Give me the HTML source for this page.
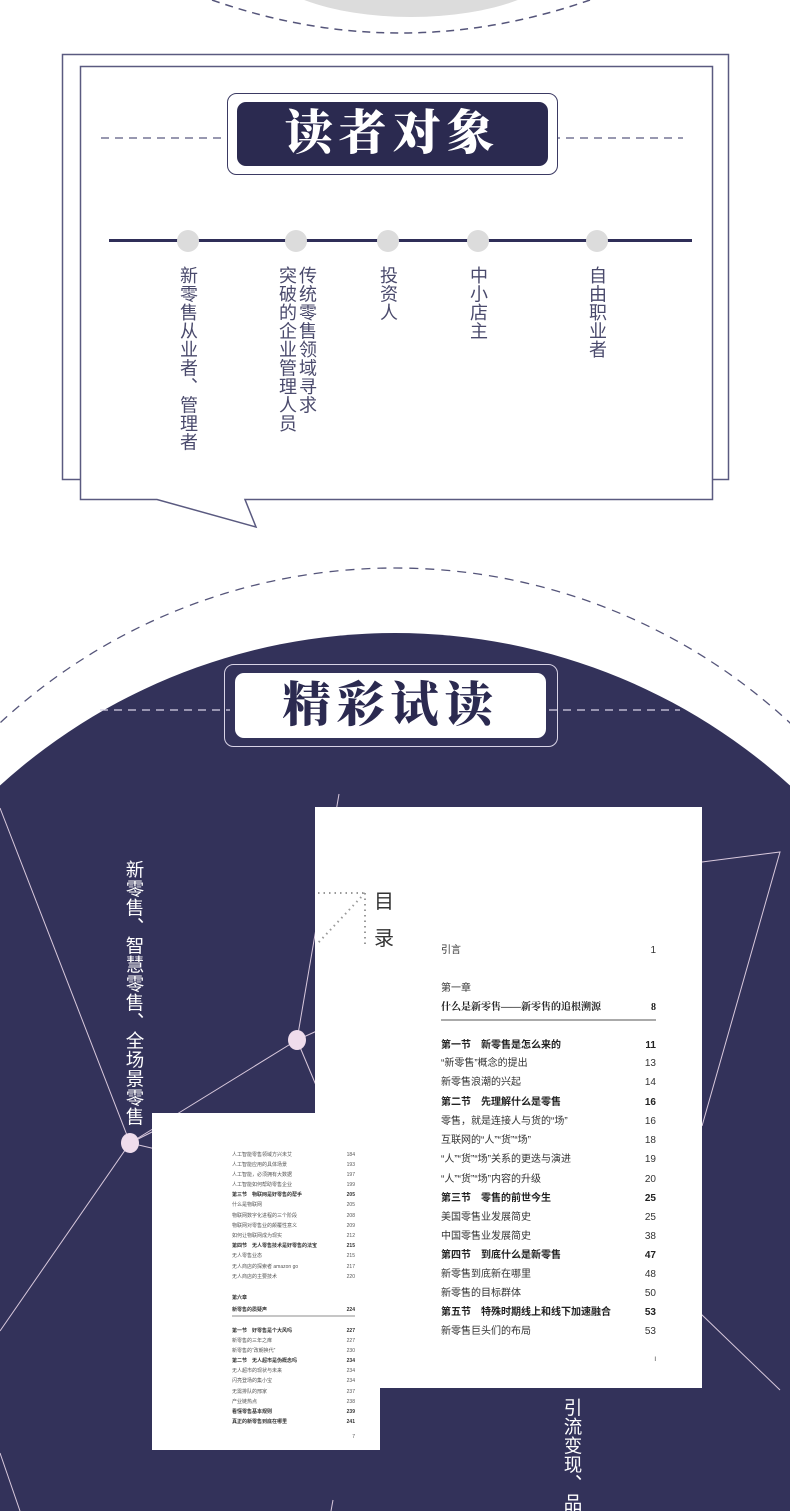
<!DOCTYPE html>
<html style="overflow:hidden;width:790px;height:1511px"><head><meta charset="utf-8">
<style>
*{margin:0;padding:0;box-sizing:border-box}
body{width:790px;height:1511px;position:relative;overflow:hidden;background:#fff;font-family:"Liberation Sans","Noto Sans CJK SC",sans-serif}
.a{position:absolute}
.v{position:absolute;writing-mode:vertical-rl;white-space:nowrap;height:200px;font-size:18px;line-height:18px;color:#4a4a6c;letter-spacing:0.5px}
.t{position:absolute;left:441px;width:215px;font-size:10px;line-height:12px;color:#333;display:flex;justify-content:space-between}
.t.b{font-weight:bold;color:#222}
.s{position:absolute;left:232px;width:123px;font-size:5px;line-height:6px;color:#555;display:flex;justify-content:space-between}
.s.b{font-weight:bold;color:#333}
.title{position:absolute;font-family:"Liberation Serif","Noto Serif CJK SC",serif;font-weight:900;font-size:48px;line-height:60px;text-align:center;letter-spacing:6px}
</style></head><body>
<svg class="a" style="left:0;top:0" width="790" height="1511" viewBox="0 0 790 1511">
  <ellipse cx="411" cy="-40" rx="150" ry="57" fill="#dcdcdc"/>
  <path d="M212 0 Q400 66 590 0" fill="none" stroke="#55557a" stroke-width="1.5" stroke-dasharray="8 6"/>
  <rect x="62.5" y="54.5" width="666" height="425" fill="none" stroke="#5a5a80" stroke-width="1.5"/>
  <path d="M80.5 66.5 H712.5 V499.5 H245 L256 527 L157 499.5 H80.5 Z" fill="#fff" stroke="#5a5a80" stroke-width="1.5"/>
  <line x1="101" y1="138" x2="228" y2="138" stroke="#5a5a80" stroke-width="1.2" stroke-dasharray="8 6"/>
  <line x1="552" y1="138" x2="683" y2="138" stroke="#5a5a80" stroke-width="1.2" stroke-dasharray="8 6"/>
  <rect x="227.5" y="93.5" width="330" height="81" rx="9" fill="#fff" stroke="#3b3a63" stroke-width="1"/>
  <rect x="237" y="102" width="311" height="64" rx="9" fill="#2b2a50"/>
  <line x1="109" y1="240.5" x2="692" y2="240.5" stroke="#2f2e58" stroke-width="3"/>
  <g fill="#dcdcdc"><ellipse cx="188" cy="241" rx="11" ry="11"/><ellipse cx="296" cy="241" rx="11" ry="11"/><ellipse cx="388" cy="241" rx="11" ry="11"/><ellipse cx="478" cy="241" rx="11" ry="11"/><ellipse cx="597" cy="241" rx="11" ry="11"/></g>
  <circle cx="395" cy="1149" r="581" fill="none" stroke="#55557a" stroke-width="1.3" stroke-dasharray="9 7"/>
  <circle cx="395" cy="1221" r="588" fill="#33325a"/>
  <rect x="0" y="1221" width="790" height="290" fill="#33325a"/>
  <line x1="100" y1="710" x2="230" y2="710" stroke="#d8d3e6" stroke-width="1.2" stroke-dasharray="8 6"/>
  <line x1="549" y1="710" x2="680" y2="710" stroke="#d8d3e6" stroke-width="1.2" stroke-dasharray="8 6"/>
  <rect x="224.5" y="664.5" width="333" height="82" rx="9" fill="none" stroke="#d8d3e6" stroke-width="1"/>
  <rect x="235" y="673" width="311" height="65" rx="9" fill="#fff"/>
  <g stroke="#d9c9dd" stroke-width="1" fill="none">
    <line x1="0" y1="808" x2="130" y2="1143"/>
    <line x1="130" y1="1143" x2="0" y2="1331"/>
    <line x1="130" y1="1143" x2="297" y2="1040"/>
    <line x1="339" y1="794" x2="297" y2="1040"/>
    <line x1="297" y1="1040" x2="330" y2="1025"/>
    <line x1="297" y1="1040" x2="318" y2="1090"/>
    <line x1="130" y1="1143" x2="160" y2="1128"/>
    <line x1="130" y1="1143" x2="160" y2="1150"/>
    <polyline points="702,862 780,852 702,1126"/>
    <line x1="700" y1="1313" x2="780" y2="1390"/>
    <line x1="0" y1="1453" x2="20" y2="1511"/>
    <line x1="333" y1="1500" x2="331" y2="1511"/>
  </g>
  <ellipse cx="130" cy="1143" rx="9" ry="10" fill="#efdcec"/>
  <ellipse cx="297" cy="1040" rx="9" ry="10" fill="#efdcec"/>
  <rect x="315" y="807" width="387" height="581" fill="#fff"/>
  <rect x="152" y="1113" width="228" height="337" fill="#fff"/>
  <g stroke="#999" stroke-width="2" stroke-dasharray="1.5 4" fill="none">
    <line x1="318" y1="893" x2="365" y2="893"/>
    <line x1="365" y1="893" x2="365" y2="948"/>
    <line x1="365" y1="893" x2="318" y2="943"/>
  </g>
  <line x1="441" y1="1020" x2="656" y2="1020" stroke="#555" stroke-width="1"/>
  <line x1="232" y1="1316" x2="355" y2="1316" stroke="#666" stroke-width="0.7"/>
</svg>

<div class="title" style="left:237px;top:104px;width:311px;color:#fff">读者对象</div>
<div class="title" style="left:235px;top:676px;width:311px;color:#2b2a50">精彩试读</div>

<div class="v" style="left:179px;top:266px">新零售从业者、管理者</div>
<div class="v" style="left:298px;top:266px">传统零售领域寻求</div>
<div class="v" style="left:278px;top:266px">突破的企业管理人员</div>
<div class="v" style="left:379px;top:266px">投资人</div>
<div class="v" style="left:469px;top:266px">中小店主</div>
<div class="v" style="left:588px;top:266px">自由职业者</div>

<div class="v" style="left:125px;top:860px;height:280px;color:#fff;font-size:18.5px;line-height:19px">新零售、智慧零售、全场景零售</div>
<div class="v" style="left:563px;top:1398px;height:113px;overflow:hidden;color:#fff;font-size:18.5px;line-height:19px">引流变现、品</div>

<div class="a" style="left:374px;top:892px;font-size:20px;line-height:20px;color:#333">目</div>
<div class="a" style="left:374px;top:929px;font-size:20px;line-height:20px;color:#333">录</div>

<div class="t" style="top:945px"><span>引言</span><span>1</span></div>
<div class="t" style="top:983px"><span>第一章</span><span></span></div>
<div class="t b" style="top:1002px;font-family:'Liberation Serif','Noto Serif CJK SC',serif"><span>什么是新零售——新零售的追根溯源</span><span>8</span></div>
<div class="t b" style="top:1040px"><span>第一节　新零售是怎么来的</span><span>11</span></div>
<div class="t" style="top:1058px"><span>“新零售”概念的提出</span><span>13</span></div>
<div class="t" style="top:1077px"><span>新零售浪潮的兴起</span><span>14</span></div>
<div class="t b" style="top:1097px"><span>第二节　先理解什么是零售</span><span>16</span></div>
<div class="t" style="top:1116px"><span>零售，就是连接人与货的“场”</span><span>16</span></div>
<div class="t" style="top:1135px"><span>互联网的“人”“货”“场”</span><span>18</span></div>
<div class="t" style="top:1154px"><span>“人”“货”“场”关系的更迭与演进</span><span>19</span></div>
<div class="t" style="top:1174px"><span>“人”“货”“场”内容的升级</span><span>20</span></div>
<div class="t b" style="top:1193px"><span>第三节　零售的前世今生</span><span>25</span></div>
<div class="t" style="top:1212px"><span>美国零售业发展简史</span><span>25</span></div>
<div class="t" style="top:1231px"><span>中国零售业发展简史</span><span>38</span></div>
<div class="t b" style="top:1250px"><span>第四节　到底什么是新零售</span><span>47</span></div>
<div class="t" style="top:1269px"><span>新零售到底新在哪里</span><span>48</span></div>
<div class="t" style="top:1288px"><span>新零售的目标群体</span><span>50</span></div>
<div class="t b" style="top:1307px"><span>第五节　特殊时期线上和线下加速融合</span><span>53</span></div>
<div class="t" style="top:1326px"><span>新零售巨头们的布局</span><span>53</span></div>
<div class="t" style="top:1354px;font-size:6px"><span></span><span>I</span></div>

<div class="s" style="top:1152px"><span>人工智能零售领域方兴未艾</span><span>184</span></div>
<div class="s" style="top:1162px"><span>人工智能应用的具体场景</span><span>193</span></div>
<div class="s" style="top:1172px"><span>人工智能，必须拥有大数据</span><span>197</span></div>
<div class="s" style="top:1182px"><span>人工智能如何帮助零售企业</span><span>199</span></div>
<div class="s b" style="top:1192px"><span>第三节　物联网是好零售的帮手</span><span>205</span></div>
<div class="s" style="top:1202px"><span>什么是物联网</span><span>205</span></div>
<div class="s" style="top:1213px"><span>物联网数字化进程的三个阶段</span><span>208</span></div>
<div class="s" style="top:1223px"><span>物联网对零售业的颠覆性意义</span><span>209</span></div>
<div class="s" style="top:1233px"><span>如何让物联网成为现实</span><span>212</span></div>
<div class="s b" style="top:1243px"><span>第四节　无人零售技术是好零售的法宝</span><span>215</span></div>
<div class="s" style="top:1253px"><span>无人零售业态</span><span>215</span></div>
<div class="s" style="top:1264px"><span>无人商店的探索者 amazon go</span><span>217</span></div>
<div class="s" style="top:1274px"><span>无人商店的主要技术</span><span>220</span></div>
<div class="s b" style="top:1295px"><span>第六章</span><span></span></div>
<div class="s b" style="top:1307px"><span>新零售的质疑声</span><span>224</span></div>
<div class="s b" style="top:1328px"><span>第一节　好零售是个大风吗</span><span>227</span></div>
<div class="s" style="top:1338px"><span>新零售的三年之痒</span><span>227</span></div>
<div class="s" style="top:1348px"><span>新零售的“改朝换代”</span><span>230</span></div>
<div class="s b" style="top:1358px"><span>第二节　无人超市是伪概念吗</span><span>234</span></div>
<div class="s" style="top:1368px"><span>无人超市的现状与未来</span><span>234</span></div>
<div class="s" style="top:1378px"><span>闪亮登场的集小宝</span><span>234</span></div>
<div class="s" style="top:1389px"><span>无需排队的邢家</span><span>237</span></div>
<div class="s" style="top:1399px"><span>产业链热点</span><span>238</span></div>
<div class="s b" style="top:1409px"><span>看懂零售基本规则</span><span>239</span></div>
<div class="s b" style="top:1419px"><span>真正的新零售到底在哪里</span><span>241</span></div>
<div class="s" style="top:1434px"><span></span><span>7</span></div>
</body></html>
